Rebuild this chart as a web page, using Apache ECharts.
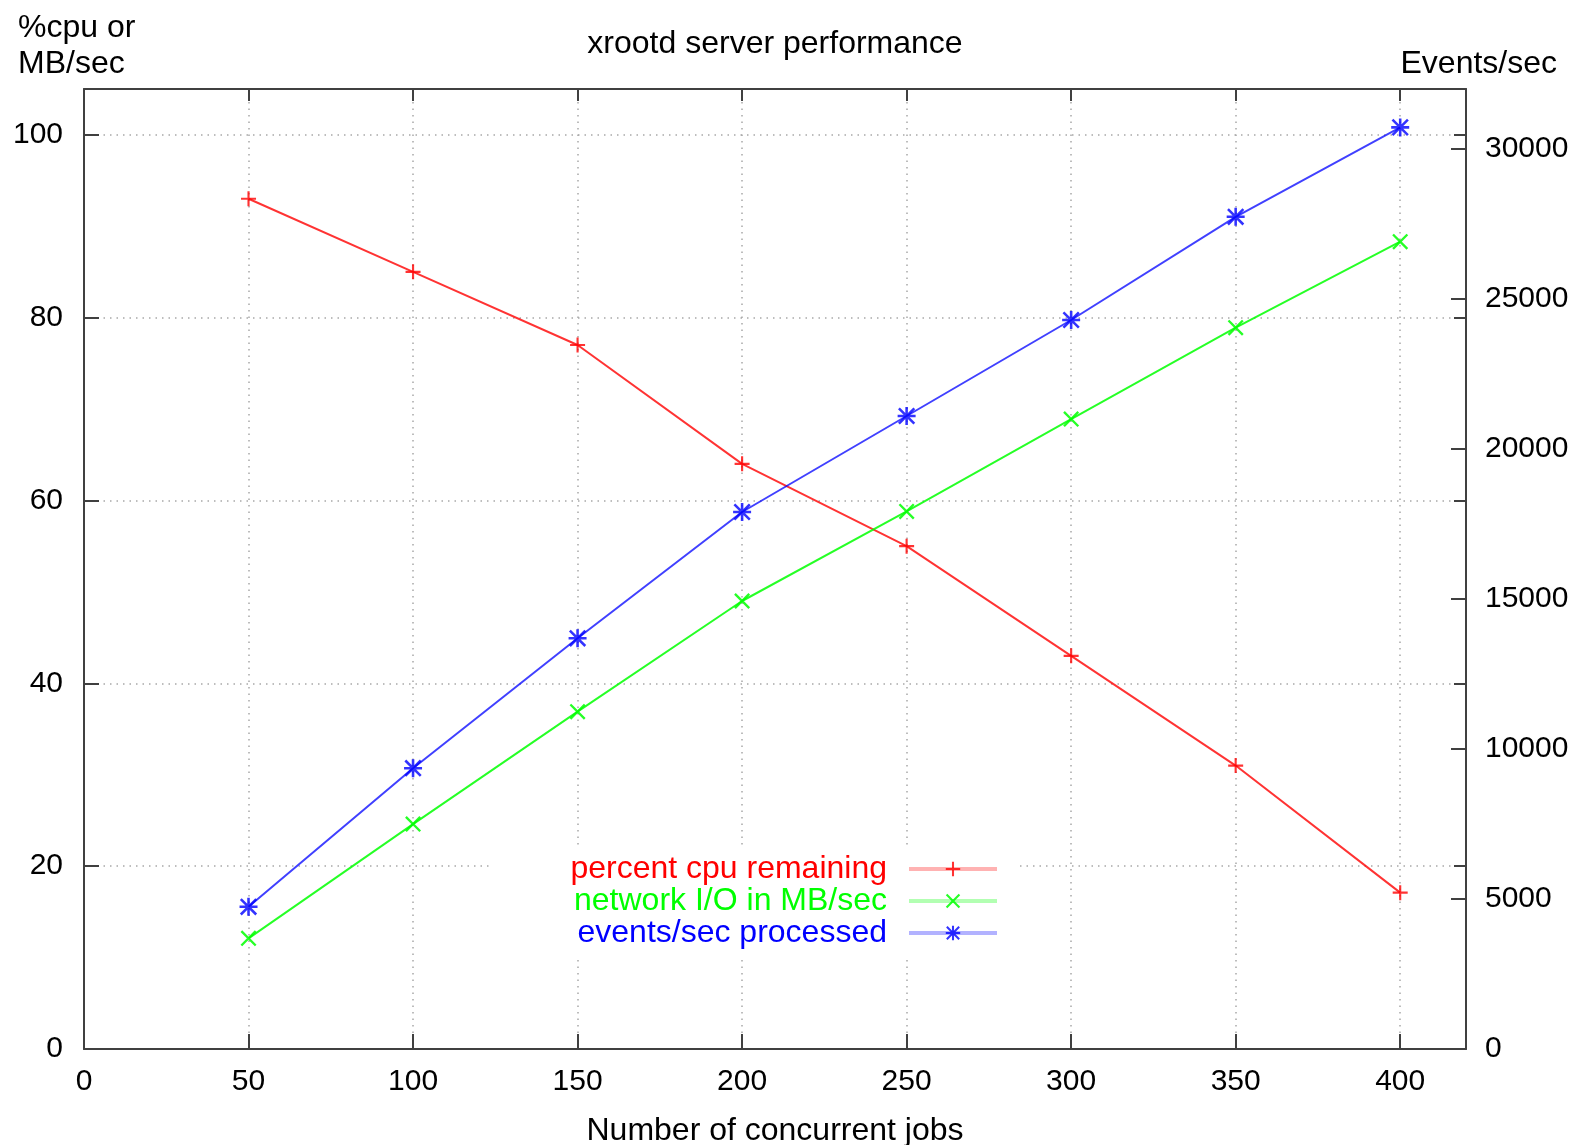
<!DOCTYPE html>
<html>
<head>
<meta charset="utf-8">
<script src="https://cdn.jsdelivr.net/npm/echarts@6/dist/echarts.min.js"></script>
<style>
  html, body { margin: 0; padding: 0; background: #ffffff; }
  #chart { width: 1578px; height: 1145px; }
</style>
</head>
<body>
<div id="chart"></div>
<script>
// ---- data ----
var jobs = [50, 100, 150, 200, 250, 300, 350, 400];
var cpuRemaining = [93, 85, 77, 64, 55, 43, 31, 17.1];
var networkIO = [12.1, 24.6, 36.9, 49, 58.8, 68.9, 78.9, 88.3];
var eventsPerSec = [4740, 9360, 13690, 17900, 21100, 24300, 27740, 30720];
var seriesNames = ['percent cpu remaining', 'network I/O in MB/sec', 'events/sec processed'];
var titleText = 'xrootd server performance';
var xAxisName = 'Number of concurrent jobs';
var leftAxisName = '%cpu or\nMB/sec';
var rightAxisName = 'Events/sec';

var FONT = '"Liberation Sans", Arial, Helvetica, sans-serif';
var FRAME = '#404040';
var RED = '#ff0000', GREEN = '#00ff00', BLUE = '#0000ff';

var PLUS = 'path://M-1,-7L1,-7L1,-1L7,-1L7,1L1,1L1,7L-1,7L-1,1L-7,1L-7,-1L-1,-1Z';
var CROSS = 'path://M-5.3,-6.7L6.7,5.3L5.3,6.7L-6.7,-5.3Z M5.3,-6.7L6.7,-5.3L-5.3,6.7L-6.7,5.3Z';
var STAR = 'path://M-5.3,-6.7L6.7,5.3L5.3,6.7L-6.7,-5.3Z M5.3,-6.7L6.7,-5.3L-5.3,6.7L-6.7,5.3Z M-1,-7L1,-7L1,-1L7,-1L7,1L1,1L1,7L-1,7L-1,1L-7,1L-7,-1L-1,-1Z';

function pairs(xs, ys) { return xs.map(function (x, i) { return [x, ys[i]]; }); }

var gridDots = { show: true, lineStyle: { color: '#a8a8a8', width: 1.5, type: [1.5, 5] } };
var frameLine = { show: true, onZero: false, lineStyle: { color: FRAME, width: 2 } };

var chart = echarts.init(document.getElementById('chart'), null, { renderer: 'canvas' });
chart.setOption({
  backgroundColor: '#ffffff',
  animation: false,
  textStyle: { fontFamily: FONT },
  grid: { left: 84, right: 112, top: 89, bottom: 96, containLabel: false, outerBoundsMode: 'none' },
  xAxis: [
    {
      type: 'value', position: 'bottom', min: 0, max: 420, interval: 50,
      name: xAxisName, nameLocation: 'middle', nameGap: 66,
      nameTextStyle: { fontFamily: FONT, fontSize: 32, color: '#000' },
      axisLine: frameLine,
      axisTick: { show: true, inside: true, length: 15, lineStyle: { color: FRAME, width: 2 } },
      axisLabel: { margin: 18, fontFamily: FONT, fontSize: 30, color: '#000',
        formatter: function (v) { return v % 50 === 0 ? String(v) : ''; } },
      splitLine: gridDots
    },
    {
      type: 'value', position: 'top', min: 0, max: 420, interval: 50,
      axisLine: frameLine,
      axisTick: { show: true, inside: true, length: 12, lineStyle: { color: FRAME, width: 2 } },
      axisLabel: { show: false }, splitLine: { show: false }
    }
  ],
  yAxis: [
    {
      type: 'value', position: 'left', min: 0, max: 105, interval: 20,
      axisLine: frameLine,
      axisTick: { show: true, inside: true, length: 15, lineStyle: { color: FRAME, width: 2 } },
      axisLabel: { margin: 21, fontFamily: FONT, fontSize: 30, color: '#000',
        formatter: function (v) { return v % 20 === 0 ? String(v) : ''; } },
      splitLine: gridDots
    },
    {
      type: 'value', position: 'right', min: 0, max: 32000, interval: 5000,
      axisLine: frameLine,
      axisTick: { show: true, inside: true, length: 15, lineStyle: { color: FRAME, width: 2 } },
      axisLabel: { margin: 19, fontFamily: FONT, fontSize: 30, color: '#000',
        formatter: function (v) { return v % 5000 === 0 ? String(v) : ''; } },
      splitLine: { show: false }
    },
    {
      type: 'value', position: 'right', min: 0, max: 105, interval: 20,
      axisLine: { show: false, onZero: false },
      axisTick: { show: true, inside: true, length: 12, lineStyle: { color: FRAME, width: 2 } },
      axisLabel: { show: false }, splitLine: { show: false }
    }
  ],
  legend: {
    orient: 'vertical', align: 'right',
    right: 560, top: 848, padding: [5, 19, 6, 81],
    backgroundColor: '#ffffff',
    itemWidth: 88, itemHeight: 18, itemGap: 0,
    lineStyle: { width: 4, opacity: 0.3 },
    textStyle: { fontFamily: FONT, fontSize: 32, lineHeight: 32, padding: [0, 17, 0, 0] },
    selectedMode: false,
    data: [
      { name: seriesNames[0], textStyle: { color: RED } },
      { name: seriesNames[1], textStyle: { color: GREEN } },
      { name: seriesNames[2], textStyle: { color: BLUE } }
    ]
  },
  graphic: [
    { type: 'text', x: 775, y: 44, silent: true,
      style: { text: titleText, font: '32px ' + FONT, fill: '#000', textAlign: 'center', textVerticalAlign: 'middle' } },
    { type: 'text', x: 18, y: 10, silent: true,
      style: { text: leftAxisName, font: '32px ' + FONT, lineHeight: 36, fill: '#000', textAlign: 'left', textVerticalAlign: 'top' } },
    { type: 'text', x: 1557, y: 64, silent: true,
      style: { text: rightAxisName, font: '32px ' + FONT, fill: '#000', textAlign: 'right', textVerticalAlign: 'middle' } }
  ],
  series: [
    {
      name: seriesNames[0], type: 'line', xAxisIndex: 0, yAxisIndex: 0,
      data: pairs(jobs, cpuRemaining),
      symbol: PLUS, symbolSize: 15,
      lineStyle: { color: RED, width: 2, opacity: 0.8 },
      itemStyle: { color: RED, opacity: 0.8 }
    },
    {
      name: seriesNames[1], type: 'line', xAxisIndex: 0, yAxisIndex: 0,
      data: pairs(jobs, networkIO),
      symbol: CROSS, symbolSize: 16,
      lineStyle: { color: GREEN, width: 2, opacity: 0.85 },
      itemStyle: { color: GREEN, opacity: 0.85 }
    },
    {
      name: seriesNames[2], type: 'line', xAxisIndex: 0, yAxisIndex: 1,
      data: pairs(jobs, eventsPerSec),
      symbol: STAR, symbolSize: 18,
      lineStyle: { color: BLUE, width: 2, opacity: 0.75 },
      itemStyle: { color: BLUE, opacity: 0.8 }
    }
  ]
});
</script>
</body>
</html>
